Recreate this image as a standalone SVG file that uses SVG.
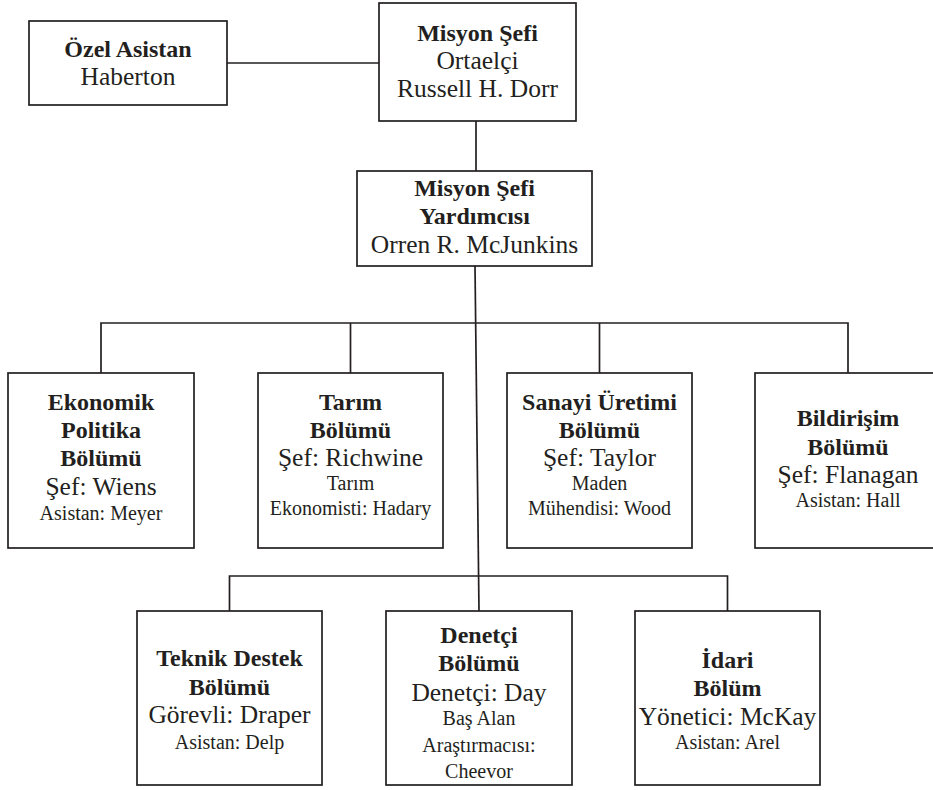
<svg xmlns="http://www.w3.org/2000/svg" width="933" height="790" viewBox="0 0 933 790">
<style>
.box{fill:#fff;stroke:#231f20;stroke-width:1.7}
.ln{fill:none;stroke:#231f20;stroke-width:1.7}
text{font-family:"Liberation Serif","DejaVu Serif",serif;fill:#231f20;text-anchor:middle}
.b{font-weight:bold;font-size:24px}
.r{font-size:25.5px}
.s{font-size:20px}
</style>
<rect width="933" height="790" fill="#fff"/>
<g id="connectors">
<line class="ln" x1="227" y1="63" x2="379" y2="63"/>
<line class="ln" x1="476" y1="121" x2="476" y2="171"/>
<polyline class="ln" points="475,266 479,611"/>
<polyline class="ln" points="101,373 101,323 848,323 848,373"/>
<line class="ln" x1="350.5" y1="323" x2="350.5" y2="373"/>
<line class="ln" x1="599.5" y1="323" x2="599.5" y2="373"/>
<polyline class="ln" points="229.5,611 229.5,576 727.5,576 727.5,611"/>
</g>
<g id="ozel">
<rect class="box" x="29" y="21" width="198" height="84"/>
<text class="b" x="128" y="57">Özel Asistan</text>
<text class="r" x="128" y="85">Haberton</text>
</g>
<g id="misyon">
<rect class="box" x="379" y="3" width="197" height="118"/>
<text class="b" x="477.5" y="41">Misyon Şefi</text>
<text class="r" x="477.5" y="69">Ortaelçi</text>
<text class="r" x="477.5" y="97">Russell H. Dorr</text>
</g>
<g id="yardimci">
<rect class="box" x="357" y="171" width="235" height="95"/>
<text class="b" x="474.5" y="196">Misyon Şefi</text>
<text class="b" x="474.5" y="224">Yardımcısı</text>
<text class="r" x="474.5" y="253">Orren R. McJunkins</text>
</g>
<g id="ekonomik">
<rect class="box" x="8" y="373" width="186" height="175"/>
<text class="b" x="101" y="410">Ekonomik</text>
<text class="b" x="101" y="438">Politika</text>
<text class="b" x="101" y="466">Bölümü</text>
<text class="r" x="101" y="495">Şef: Wiens</text>
<text class="s" x="101" y="520">Asistan: Meyer</text>
</g>
<g id="tarim">
<rect class="box" x="258" y="373" width="185" height="175"/>
<text class="b" x="350.5" y="410">Tarım</text>
<text class="b" x="350.5" y="438">Bölümü</text>
<text class="r" x="350.5" y="466">Şef: Richwine</text>
<text class="s" x="350.5" y="490">Tarım</text>
<text class="s" x="350.5" y="515">Ekonomisti: Hadary</text>
</g>
<g id="sanayi">
<rect class="box" x="507" y="373" width="185" height="175"/>
<text class="b" x="599.5" y="410">Sanayi Üretimi</text>
<text class="b" x="599.5" y="438">Bölümü</text>
<text class="r" x="599.5" y="466">Şef: Taylor</text>
<text class="s" x="599.5" y="490">Maden</text>
<text class="s" x="599.5" y="515">Mühendisi: Wood</text>
</g>
<g id="bildirisim">
<rect class="box" x="755" y="373" width="186" height="175"/>
<text class="b" x="848" y="426">Bildirişim</text>
<text class="b" x="848" y="455">Bölümü</text>
<text class="r" x="848" y="483">Şef: Flanagan</text>
<text class="s" x="848" y="507">Asistan: Hall</text>
</g>
<g id="teknik">
<rect class="box" x="137" y="611" width="185" height="174"/>
<text class="b" x="229.5" y="666">Teknik Destek</text>
<text class="b" x="229.5" y="695">Bölümü</text>
<text class="r" x="229.5" y="723">Görevli: Draper</text>
<text class="s" x="229.5" y="749">Asistan: Delp</text>
</g>
<g id="denetci">
<rect class="box" x="386" y="611" width="186" height="174"/>
<text class="b" x="479" y="643">Denetçi</text>
<text class="b" x="479" y="671">Bölümü</text>
<text class="r" x="479" y="701">Denetçi: Day</text>
<text class="s" x="479" y="725">Baş Alan</text>
<text class="s" x="479" y="752">Araştırmacısı:</text>
<text class="s" x="479" y="778">Cheevor</text>
</g>
<g id="idari">
<rect class="box" x="635" y="611" width="185" height="174"/>
<text class="b" x="727.5" y="668">İdari</text>
<text class="b" x="727.5" y="696">Bölüm</text>
<text class="r" x="727.5" y="725">Yönetici: McKay</text>
<text class="s" x="727.5" y="749">Asistan: Arel</text>
</g>
</svg>
